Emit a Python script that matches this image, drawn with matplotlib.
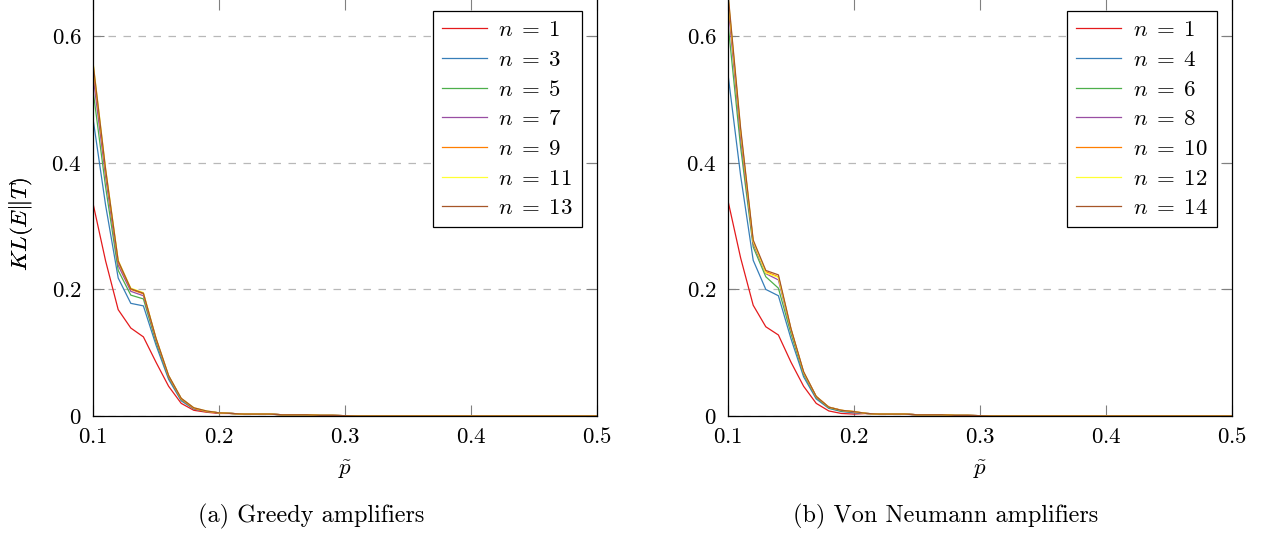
import matplotlib
matplotlib.use("Agg")
import matplotlib.pyplot as plt

plt.rcParams["mathtext.fontset"] = "cm"
plt.rcParams["font.family"] = ["cmr10", "DejaVu Serif"]
plt.rcParams["axes.formatter.use_mathtext"] = True

# p~ values sampled every 0.01 between 0.10 and 0.50
p_tilde = [0.10, 0.11, 0.12, 0.13, 0.14, 0.15, 0.16, 0.17, 0.18, 0.19, 0.20,
           0.21, 0.22, 0.23, 0.24, 0.25, 0.26, 0.27, 0.28, 0.29, 0.30,
           0.31, 0.32, 0.33, 0.34, 0.35, 0.36, 0.37, 0.38, 0.39, 0.40,
           0.41, 0.42, 0.43, 0.44, 0.45, 0.46, 0.47, 0.48, 0.49, 0.50]

# KL divergence for p~ = 0.10 ... 0.20 (greedy amplifiers)
greedy_n = [1, 3, 5, 7, 9, 11, 13]
greedy_head = [
    [0.336, 0.245, 0.168, 0.139, 0.125, 0.085, 0.047, 0.020, 0.009, 0.006, 0.004],
    [0.470, 0.333, 0.218, 0.178, 0.174, 0.112, 0.058, 0.024, 0.011, 0.007, 0.005],
    [0.515, 0.362, 0.230, 0.191, 0.185, 0.117, 0.061, 0.026, 0.012, 0.007, 0.005],
    [0.538, 0.378, 0.238, 0.197, 0.190, 0.120, 0.062, 0.027, 0.012, 0.007, 0.005],
    [0.552, 0.386, 0.243, 0.200, 0.193, 0.122, 0.063, 0.027, 0.012, 0.007, 0.005],
    [0.560, 0.391, 0.246, 0.202, 0.195, 0.123, 0.064, 0.028, 0.013, 0.008, 0.005],
    [0.558, 0.390, 0.245, 0.201, 0.194, 0.123, 0.064, 0.028, 0.013, 0.008, 0.005],
]
# KL divergence for p~ = 0.10 ... 0.20 (von Neumann amplifiers)
vonneumann_n = [1, 4, 6, 8, 10, 12, 14]
vonneumann_head = [
    [0.340, 0.250, 0.175, 0.141, 0.128, 0.085, 0.047, 0.020, 0.008, 0.004, 0.003],
    [0.540, 0.380, 0.246, 0.200, 0.190, 0.122, 0.062, 0.027, 0.012, 0.007, 0.005],
    [0.620, 0.425, 0.267, 0.220, 0.202, 0.130, 0.066, 0.029, 0.013, 0.008, 0.006],
    [0.650, 0.440, 0.272, 0.225, 0.215, 0.135, 0.068, 0.030, 0.014, 0.009, 0.006],
    [0.660, 0.450, 0.275, 0.228, 0.220, 0.137, 0.069, 0.031, 0.014, 0.009, 0.007],
    [0.665, 0.452, 0.276, 0.226, 0.219, 0.137, 0.069, 0.031, 0.014, 0.009, 0.007],
    [0.668, 0.455, 0.278, 0.230, 0.223, 0.138, 0.070, 0.031, 0.014, 0.009, 0.007],
]
# shared tail for p~ = 0.21 ... 0.50, everything is ~0 there
tail = [0.004, 0.003, 0.003, 0.003, 0.002, 0.002, 0.002, 0.001, 0.001, 0.0005,
        0.0, 0.0, 0.0, 0.0, 0.0, 0.0, 0.0, 0.0, 0.0, 0.0,
        0.0, 0.0, 0.0, 0.0, 0.0, 0.0, 0.0, 0.0, 0.0, 0.0]

xticks = [0.1, 0.2, 0.3, 0.4, 0.5]
xtick_labels = ["0.1", "0.2", "0.3", "0.4", "0.5"]
yticks = [0.0, 0.2, 0.4, 0.6]
ytick_labels = ["0", "0.2", "0.4", "0.6"]

# colorbrewer Set1
colors = ["#E41A1C", "#377EB8", "#4DAF4A", "#984EA3", "#FF7F00", "#FFFF33", "#A65628"]

FS = 16.5
W, H = 1265, 535
fig = plt.figure(figsize=(W / 100, H / 100), dpi=100)


def make_panel(left_px, right_px, n_values, heads, caption, caption_x):
    ax = fig.add_axes([left_px / W, 1 - 416 / H, (right_px - left_px) / W, 416 / H + 0.002])
    for n, head, c in zip(n_values, heads, colors):
        ax.plot(p_tilde, head + tail, color=c, lw=0.9, label=rf"$n\;=\;{n}$")
    ax.set_xlim(0.1, 0.5)
    ax.set_ylim(0, 0.659)
    ax.set_xticks(xticks, [f"${t}$" for t in xtick_labels])
    ax.set_yticks(yticks, [f"${t}$" for t in ytick_labels])
    ax.tick_params(direction="in", length=8, width=0.8, color="#808080",
                   top=True, right=True, labelsize=FS, pad=8)
    ax.yaxis.grid(True, linestyle=(0, (6, 6)), color="#b8b8b8", lw=0.9)
    for s in ax.spines.values():
        s.set_linewidth(0.9)
    ax.set_xlabel(r"$\tilde{p}$", fontsize=FS, labelpad=8)
    ax.set_ylabel(r"$KL(E\|T)$", fontsize=FS)
    ax.yaxis.set_label_coords((35 - left_px) / (right_px - left_px), 0.46)
    leg = ax.legend(loc="upper right", bbox_to_anchor=(0.970, 0.971), borderaxespad=0,
                    fontsize=FS, handlelength=1.95, labelspacing=0.42, handletextpad=0.5,
                    borderpad=0.4, fancybox=False, framealpha=1, edgecolor="black")
    leg.get_frame().set_linewidth(0.9)
    fig.text(caption_x / W, 1 - 516 / H, caption, fontsize=17.5,
             ha="center", va="center")
    return ax


make_panel(93, 597, greedy_n, greedy_head, "(a) Greedy amplifiers", 311)
make_panel(728, 1232, vonneumann_n, vonneumann_head, "(b) Von Neumann amplifiers", 946)

fig.savefig("out.png", dpi=100)
